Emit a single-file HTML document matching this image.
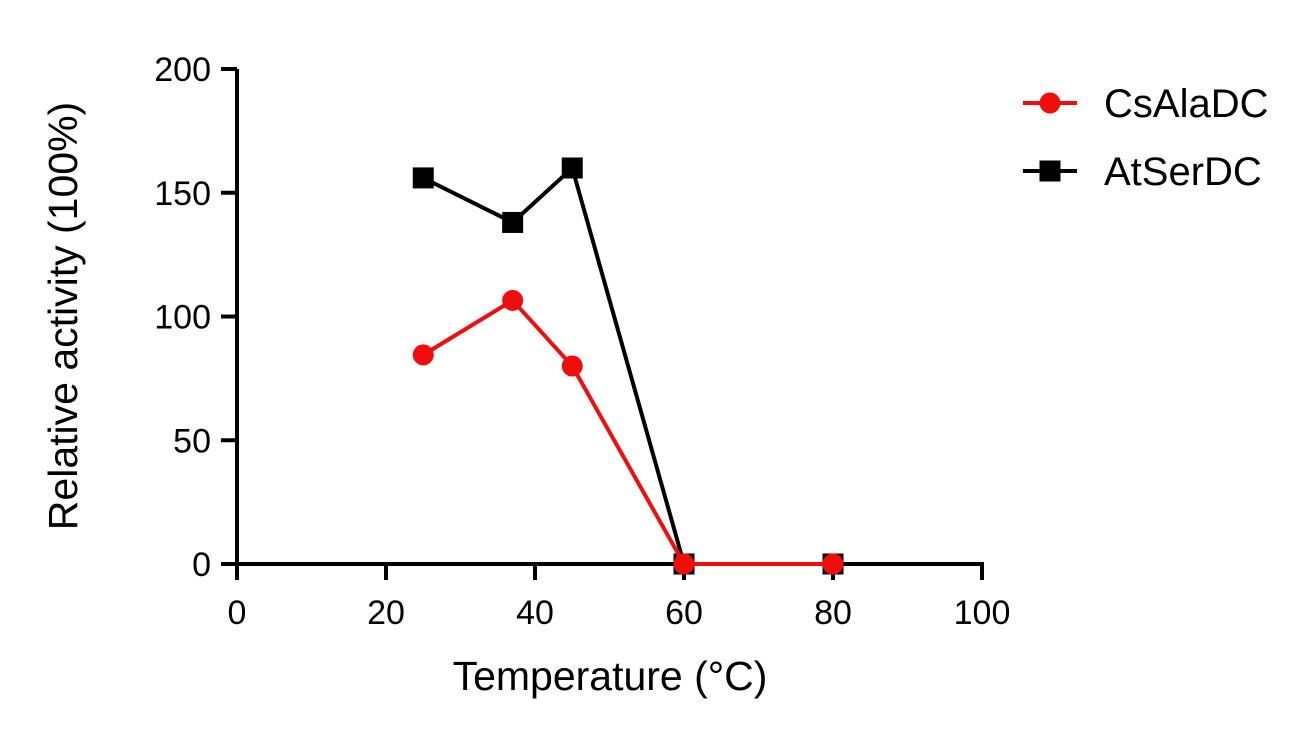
<!DOCTYPE html>
<html><head><meta charset="utf-8"><style>
html,body{margin:0;padding:0;background:#fff;}
svg{display:block;font-family:"Liberation Sans",Arial,sans-serif;}
</style></head><body>
<svg id="chart" width="1307" height="732"></svg>
<script>
const temps = [25, 37, 45, 60, 80];
const csAlaDC = [84.5, 106.5, 80, 0, 0];
const atSerDC = [156, 138, 160, 0, 0];
const xTicks = [0, 20, 40, 60, 80, 100];
const yTicks = [0, 50, 100, 150, 200];

const NS = "http://www.w3.org/2000/svg";
const svg = document.getElementById('chart');
const X0 = 237, X1 = 982, Y0 = 564, Y1 = 69;
const sx = v => X0 + (v - 0) / 100 * (X1 - X0);
const sy = v => Y0 - v / 200 * (Y0 - Y1);
function mk(tag, attrs, text) {
  const e = document.createElementNS(NS, tag);
  for (const k in attrs) e.setAttribute(k, attrs[k]);
  if (text !== undefined) e.textContent = text;
  svg.appendChild(e);
  return e;
}
let e = mk('line', {x1: X0, y1: Y1, x2: X0, y2: Y0 + 2, stroke: '#000', 'stroke-width': 4});


e = mk('line', {x1: X0 - 2, y1: Y0, x2: X1 + 2, y2: Y0, stroke: '#000', 'stroke-width': 4});


yTicks.forEach(t => {
  const y = sy(t);
  let l = mk('line', {x1: X0 - 16, y1: y, x2: X0, y2: y, stroke: '#000', 'stroke-width': 4});
  
  
  let tx = mk('text', {x: X0 - 26, y: y + 12, 'text-anchor': 'end', 'font-size': 34}, String(t));
  
  
});
xTicks.forEach(t => {
  const x = sx(t);
  let l = mk('line', {x1: x, y1: Y0, x2: x, y2: Y0 + 16, stroke: '#000', 'stroke-width': 4});
  
  
  let tx = mk('text', {x: x, y: Y0 + 60, 'text-anchor': 'middle', 'font-size': 34}, String(t));
  
  
});
e = mk('text', {x: 610, y: 690, 'text-anchor': 'middle', 'font-size': 41}, 'Temperature (°C)');


e = mk('text', {x: 0, y: 0, 'text-anchor': 'middle', 'font-size': 41, transform: 'translate(77,316) rotate(-90)'}, 'Relative activity (100%)');



function series(vals, color, shape, name) {
  const pts = temps.map((t, i) => sx(t) + ',' + sy(vals[i])).join(' ');
  let p = mk('polyline', {points: pts, fill: 'none', stroke: color, 'stroke-width': 4, 'stroke-linejoin': 'miter'});
  
  
  temps.forEach((t, i) => {
    const x = sx(t), y = sy(vals[i]);
    let m = shape === 'circle'
      ? mk('circle', {cx: x, cy: y, r: 10.5, fill: color})
      : mk('rect', {x: x - 10.5, y: y - 10.5, width: 21, height: 21, fill: color});
    
    
  });
}
series(atSerDC, '#000', 'square', 'atserdc');
series(csAlaDC, '#f20d0d', 'circle', 'csaladc');

function legend(y, color, shape, label, name) {
  let l = mk('line', {x1: 1023, y1: y, x2: 1077, y2: y, stroke: color, 'stroke-width': 4});
  
  
  let m = shape === 'circle'
    ? mk('circle', {cx: 1050, cy: y, r: 10.5, fill: color})
    : mk('rect', {x: 1039.5, y: y - 10.5, width: 21, height: 21, fill: color});
  
  
  let t = mk('text', {x: 1104, y: y + 14, 'font-size': 40}, label);
  
  
}
legend(103, '#f20d0d', 'circle', 'CsAlaDC', 'csaladc');
legend(171, '#000', 'square', 'AtSerDC', 'atserdc');
</script>
</body></html>
